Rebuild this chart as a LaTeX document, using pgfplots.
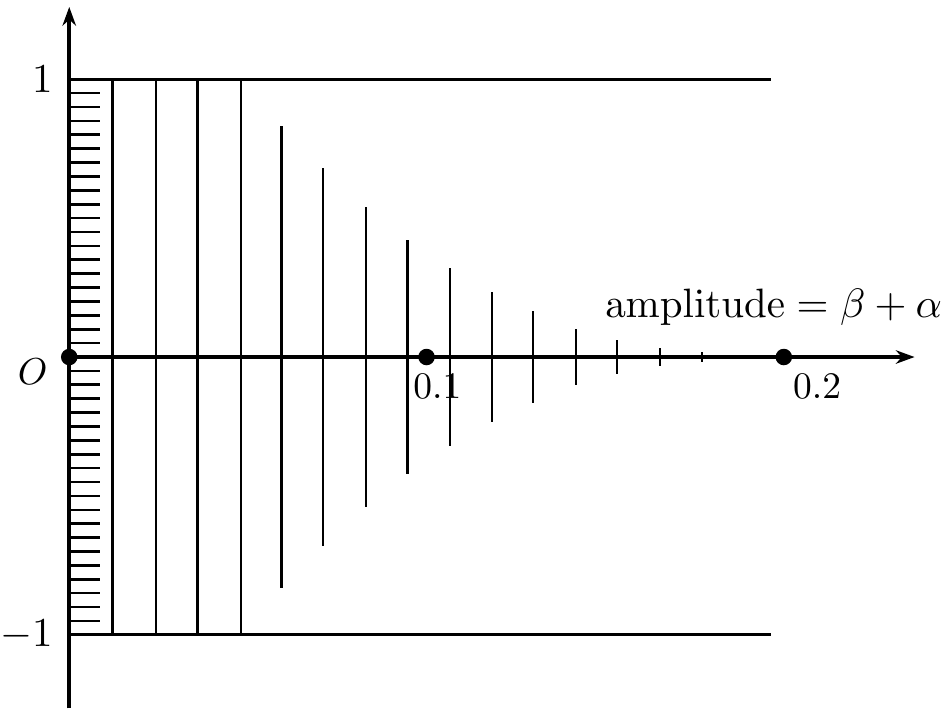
\documentclass[border=0pt]{standalone}
\usepackage{pgfplots}
\pgfplotsset{compat=1.18}
\usepackage{pgfplotstable}
\usetikzlibrary{arrows.meta}

% vertical segments: position x, half-length h (drawn from -h to +h)
\pgfplotstableread{
x      y  h
0.0121 0  1
0.0243 0  1
0.0359 0  1
0.0480 0  1
0.0594 0  0.832
0.0710 0  0.681
0.0830 0  0.541
0.0947 0  0.421
0.1065 0  0.320
0.1183 0  0.233
0.1298 0  0.165
0.1418 0  0.102
0.1533 0  0.061
0.1653 0  0.032
0.1771 0  0.018
}\bars

% short hatching strokes along the vertical axis
\pgfplotstableread{
x      y
0.0087 0.95
0.0087 0.90
0.0087 0.85
0.0087 0.80
0.0087 0.75
0.0087 0.70
0.0087 0.65
0.0087 0.60
0.0087 0.55
0.0087 0.50
0.0087 0.45
0.0087 0.40
0.0087 0.35
0.0087 0.30
0.0087 0.25
0.0087 0.20
0.0087 0.15
0.0087 0.10
0.0087 0.05
0.0087 -0.05
0.0087 -0.10
0.0087 -0.15
0.0087 -0.20
0.0087 -0.25
0.0087 -0.30
0.0087 -0.35
0.0087 -0.40
0.0087 -0.45
0.0087 -0.50
0.0087 -0.55
0.0087 -0.60
0.0087 -0.65
0.0087 -0.70
0.0087 -0.75
0.0087 -0.80
0.0087 -0.85
0.0087 -0.90
0.0087 -0.95
}\hatch

\begin{document}
\begin{tikzpicture}
\begin{axis}[
  x=953.3pt, y=74.13pt,
  xmin=0, xmax=0.2366, ymin=-1.265, ymax=1.26,
  axis lines=middle,
  axis line style={line width=1.07pt, -{Stealth[length=5pt,width=3.6pt]}},
  ticks=none,
  clip=false,
]
% fixed extent of the picture
\path (axis cs:-0.01938,-1.265) rectangle (axis cs:0.2441,1.285);

% bounds at +1 and -1
\addplot[line width=0.8pt] coordinates {(0,1) (0.1965,1)};
\addplot[line width=0.8pt] coordinates {(0,-1) (0.1965,-1)};

% hatching
\addplot[xcomb, line width=0.7pt] table[x=x, y=y] {\hatch};

% decaying amplitude bars
\addplot[draw=none, mark=none,
  error bars/.cd, y dir=both, y explicit, error mark=none,
  error bar style={line width=0.6pt, draw=black, solid}]
  table[x=x, y=y, y error=h] {\bars};

% marked points on the axis
\addplot[only marks, mark=*, mark size=2pt] coordinates {(0,0) (0.1,0) (0.2,0)};

% labels
\node[anchor=east, inner sep=0pt, xshift=-4.2pt, font=\fontsize{10.95}{13}\selectfont] at (axis cs:0,1) {$1$};
\node[anchor=east, inner sep=0pt, xshift=-4.2pt, font=\fontsize{10.95}{13}\selectfont] at (axis cs:0,-1) {$-1$};
\node[anchor=north east, inner sep=0pt, xshift=-5.6pt, yshift=-0.3pt] at (axis cs:0,0) {$O$};
\node[anchor=north, inner sep=0pt, xshift=2.9pt, yshift=-4.3pt] at (axis cs:0.1,0) {$0.1$};
\node[anchor=north, inner sep=0pt, xshift=8.9pt, yshift=-4.3pt] at (axis cs:0.2,0) {$0.2$};
\node[anchor=base west, inner sep=0pt, font=\fontsize{10.95}{13}\selectfont] at (axis cs:0.1498,0.1430) {$\mathrm{amplitude}=\beta+\alpha$};
\end{axis}
\end{tikzpicture}
\end{document}
